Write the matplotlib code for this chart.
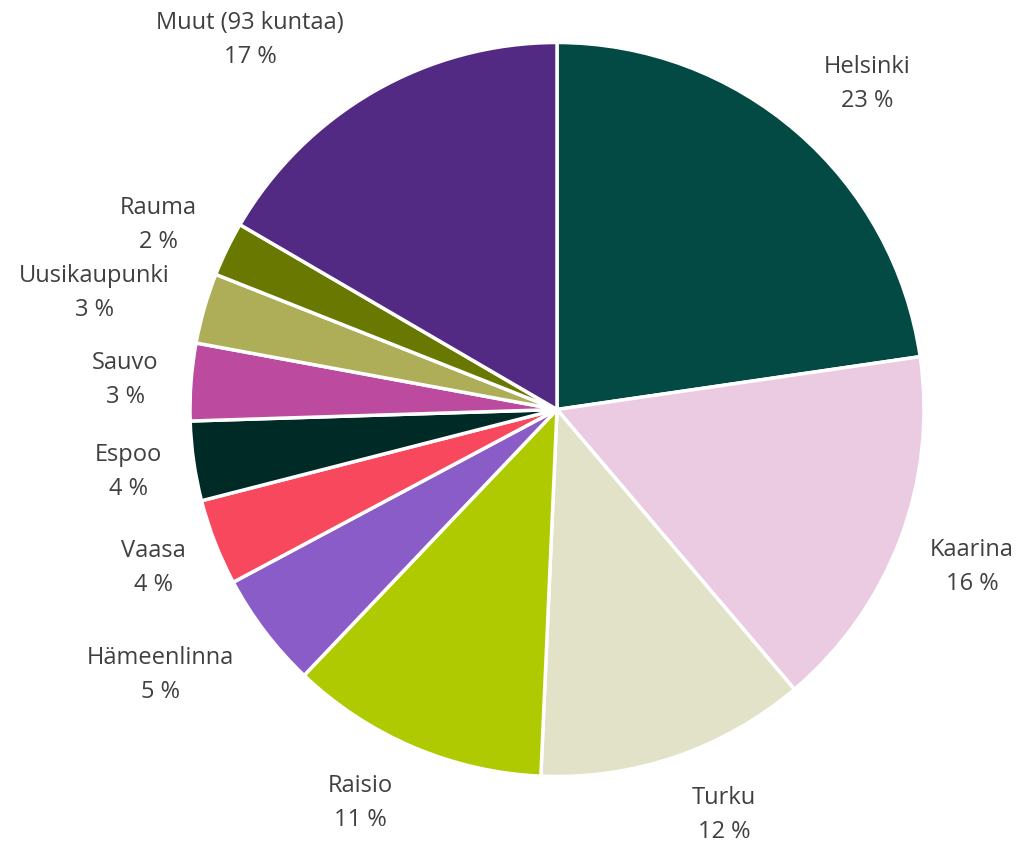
import matplotlib
matplotlib.use("Agg")
import matplotlib.pyplot as plt

categories = ["Helsinki", "Kaarina", "Turku", "Raisio", "Hämeenlinna", "Vaasa",
              "Espoo", "Sauvo", "Uusikaupunki", "Rauma", "Muut (93 kuntaa)"]
values = [22.7, 16.1, 11.9, 11.4, 5.1, 3.8, 3.5, 3.4, 3.1, 2.4, 16.6]
pct_labels = ["23 %", "16 %", "12 %", "11 %", "5 %", "4 %", "4 %", "3 %", "3 %", "2 %", "17 %"]
colors = ["#024A43", "#EBCBE2", "#E2E2C8", "#AFCA00", "#8A5CC8", "#F8485E",
          "#002A26", "#BC4A9E", "#AEAE58", "#697800", "#522A83"]

W, H = 1022, 845
fig = plt.figure(figsize=(W / 100, H / 100), dpi=100)
ax = fig.add_axes([0, 0, 1, 1])

cx, cy, r = 557, H - 410.5, 367
ax.pie(values, colors=colors, startangle=90, counterclock=False,
       center=(cx, cy), radius=r, frame=True,
       wedgeprops=dict(edgecolor="white", linewidth=2.5))
ax.set_xlim(0, W)
ax.set_ylim(0, H)
ax.set_aspect("equal")
ax.axis("off")

# label centres in pixel coordinates (layout)
label_pos = [(867, 84), (972, 567), (724, 815), (360, 803), (160, 675), (153, 568),
             (128, 472), (125, 380), (94, 293), (158, 225), (250, 40)]
for name, pct, (px, py) in zip(categories, pct_labels, label_pos):
    ax.text(px, H - py, f"{name}\n{pct}", ha="center", va="center",
            fontsize=17, color="#404040", family="Open Sans", linespacing=1.6)

fig.savefig("out.png", dpi=100)
